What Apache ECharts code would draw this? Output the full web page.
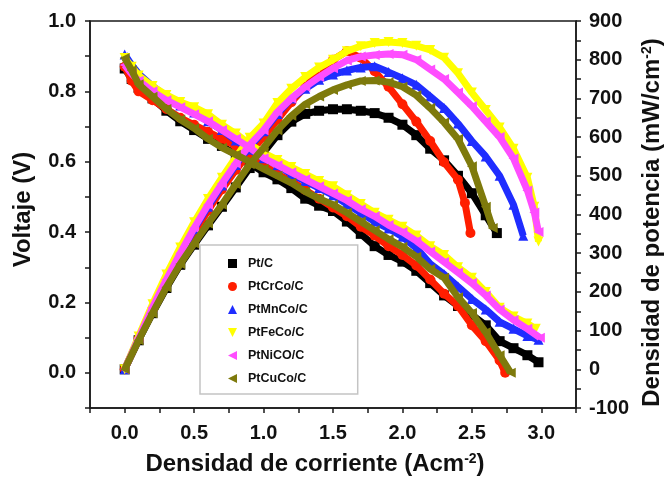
<!DOCTYPE html>
<html>
<head>
<meta charset="utf-8">
<script src="https://cdn.jsdelivr.net/npm/echarts@6/dist/echarts.min.js"></script>
<style>html,body{margin:0;padding:0;background:#fff;}#c{width:666px;height:478px;}</style>
</head>
<body>
<div id="c"></div>
<script>
// ---- data ----
const catalysts = ['Pt/C', 'PtCrCo/C', 'PtMnCo/C', 'PtFeCo/C', 'PtNiCO/C', 'PtCuCo/C'];

// Voltage (V) vs current density (A cm^-2)
const voltPtC = [[0,0.865],[0.05,0.835],[0.1,0.81],[0.2,0.78],[0.3,0.745],[0.4,0.715],[0.5,0.69],[0.6,0.665],[0.7,0.645],[0.8,0.62],[0.9,0.595],[1.0,0.57],[1.1,0.55],[1.2,0.525],[1.3,0.495],[1.4,0.475],[1.5,0.46],[1.6,0.43],[1.7,0.395],[1.8,0.36],[1.9,0.335],[2.0,0.316],[2.1,0.29],[2.2,0.255],[2.3,0.22],[2.4,0.19],[2.5,0.165],[2.6,0.135],[2.7,0.09],[2.8,0.07],[2.9,0.05],[2.98,0.03]];
const voltPtCrCo = [[0,0.87],[0.05,0.83],[0.1,0.80],[0.2,0.775],[0.3,0.75],[0.4,0.725],[0.5,0.705],[0.6,0.685],[0.7,0.665],[0.8,0.645],[0.9,0.615],[1.0,0.59],[1.1,0.565],[1.2,0.545],[1.3,0.52],[1.4,0.495],[1.5,0.47],[1.6,0.445],[1.7,0.415],[1.8,0.39],[1.9,0.36],[2.0,0.335],[2.1,0.305],[2.2,0.265],[2.3,0.225],[2.4,0.19],[2.5,0.135],[2.6,0.09],[2.7,0.035],[2.74,0.0]];
const voltPtMnCo = [[0,0.905],[0.05,0.875],[0.1,0.85],[0.2,0.815],[0.3,0.785],[0.4,0.76],[0.5,0.74],[0.6,0.715],[0.7,0.69],[0.8,0.66],[0.9,0.635],[1.0,0.61],[1.1,0.59],[1.2,0.565],[1.3,0.545],[1.4,0.525],[1.5,0.505],[1.6,0.48],[1.7,0.455],[1.8,0.43],[1.9,0.41],[2.0,0.387],[2.1,0.355],[2.2,0.31],[2.3,0.28],[2.4,0.245],[2.5,0.21],[2.6,0.18],[2.7,0.145],[2.8,0.125],[2.9,0.105],[2.98,0.094]];
const voltPtFeCo = [[0,0.895],[0.05,0.87],[0.1,0.845],[0.2,0.815],[0.3,0.79],[0.4,0.77],[0.5,0.755],[0.6,0.735],[0.7,0.705],[0.8,0.68],[0.9,0.65],[1.0,0.625],[1.1,0.605],[1.2,0.585],[1.3,0.565],[1.4,0.545],[1.5,0.53],[1.6,0.505],[1.7,0.48],[1.8,0.455],[1.9,0.435],[2.0,0.415],[2.1,0.39],[2.2,0.36],[2.3,0.335],[2.4,0.30],[2.5,0.27],[2.6,0.23],[2.7,0.185],[2.8,0.16],[2.9,0.14],[2.96,0.125]];
const voltPtNiCo = [[0,0.875],[0.05,0.85],[0.1,0.83],[0.2,0.80],[0.3,0.775],[0.4,0.755],[0.5,0.735],[0.6,0.715],[0.7,0.69],[0.8,0.665],[0.9,0.64],[1.0,0.61],[1.1,0.59],[1.2,0.57],[1.3,0.55],[1.4,0.53],[1.5,0.51],[1.6,0.49],[1.7,0.465],[1.8,0.445],[1.9,0.42],[2.0,0.40],[2.1,0.375],[2.2,0.345],[2.3,0.315],[2.4,0.285],[2.5,0.255],[2.6,0.22],[2.7,0.18],[2.8,0.15],[2.9,0.125],[2.99,0.10]];
const voltPtCuCo = [[0,0.895],[0.05,0.86],[0.1,0.82],[0.2,0.785],[0.3,0.75],[0.4,0.72],[0.5,0.695],[0.6,0.665],[0.7,0.64],[0.8,0.62],[0.9,0.60],[1.0,0.58],[1.1,0.56],[1.2,0.54],[1.3,0.515],[1.4,0.495],[1.5,0.478],[1.6,0.455],[1.7,0.43],[1.8,0.405],[1.9,0.38],[2.0,0.358],[2.1,0.33],[2.2,0.295],[2.3,0.27],[2.4,0.215],[2.5,0.17],[2.6,0.115],[2.7,0.05],[2.78,0.0]];

// Power density (mW cm^-2) vs current density
const powPtC = [[0,0],[0.1,75],[0.2,145],[0.3,210],[0.4,270],[0.5,322],[0.6,372],[0.7,420],[0.8,470],[0.9,520],[1.0,560],[1.1,605],[1.2,640],[1.3,660],[1.4,668],[1.5,672],[1.6,672],[1.7,668],[1.8,662],[1.9,650],[2.0,632],[2.1,605],[2.2,570],[2.3,540],[2.4,500],[2.5,455],[2.6,398],[2.68,352]];
const powPtCrCo = [[0,0],[0.1,78],[0.2,155],[0.3,225],[0.4,290],[0.5,352],[0.6,410],[0.7,465],[0.8,515],[0.9,560],[1.0,600],[1.1,645],[1.2,690],[1.3,730],[1.4,770],[1.5,800],[1.6,822],[1.7,805],[1.8,770],[1.9,730],[2.0,685],[2.1,640],[2.2,590],[2.3,535],[2.4,490],[2.45,430],[2.49,352]];
const powPtMnCo = [[0,0],[0.1,80],[0.2,158],[0.3,230],[0.4,298],[0.5,362],[0.6,420],[0.7,475],[0.8,528],[0.9,575],[1.0,615],[1.1,660],[1.2,700],[1.3,725],[1.4,748],[1.5,762],[1.6,772],[1.7,780],[1.8,783],[1.9,768],[2.0,752],[2.1,735],[2.2,705],[2.3,675],[2.4,635],[2.5,590],[2.6,550],[2.7,500],[2.8,425],[2.87,345]];
const powPtFeCo = [[0,0],[0.1,85],[0.2,168],[0.3,245],[0.4,315],[0.5,380],[0.6,440],[0.7,495],[0.8,548],[0.9,598],[1.0,635],[1.1,688],[1.2,725],[1.3,755],[1.4,780],[1.5,800],[1.6,822],[1.7,835],[1.8,843],[1.9,846],[2.0,843],[2.1,836],[2.2,825],[2.3,805],[2.4,765],[2.5,715],[2.6,670],[2.7,625],[2.8,570],[2.9,495],[2.95,420],[2.98,330]];
const powPtNiCo = [[0,0],[0.1,80],[0.2,160],[0.3,232],[0.4,300],[0.5,365],[0.6,425],[0.7,480],[0.8,532],[0.9,580],[1.0,618],[1.1,665],[1.2,700],[1.3,730],[1.4,755],[1.5,778],[1.6,798],[1.7,808],[1.8,812],[1.9,815],[2.0,813],[2.1,800],[2.2,775],[2.3,750],[2.4,715],[2.5,680],[2.6,640],[2.7,600],[2.8,545],[2.9,462],[2.95,405],[2.98,355]];
const powPtCuCo = [[0,0],[0.1,75],[0.2,145],[0.3,212],[0.4,272],[0.5,325],[0.6,377],[0.7,425],[0.8,478],[0.9,530],[1.0,572],[1.1,618],[1.2,655],[1.3,685],[1.4,705],[1.5,722],[1.6,735],[1.7,745],[1.8,746],[1.9,742],[2.0,730],[2.1,708],[2.2,675],[2.3,638],[2.4,595],[2.5,525],[2.6,420],[2.65,365]];

const voltageSets = [voltPtC, voltPtCrCo, voltPtMnCo, voltPtFeCo, voltPtNiCo, voltPtCuCo];
const powerSets = [powPtC, powPtCrCo, powPtMnCo, powPtFeCo, powPtNiCo, powPtCuCo];

// ---- styling ----
const colors = ['#000000', '#ff1e00', '#1f2dff', '#ffff00', '#ff4dff', '#7e7a0c'];
const symbols = ['rect', 'circle', 'triangle', 'path://M0,0L10,0L5,10Z', 'path://M10,0L10,10L0,5Z', 'path://M10,0L10,10L0,5Z'];
const FONT = '"Liberation Sans", Arial, sans-serif';

const series = [];
catalysts.forEach((name, i) => {
  [[voltageSets[i], 0], [powerSets[i], 1]].forEach(([data, yi]) => {
    series.push({
      name: name,
      type: 'line',
      yAxisIndex: yi,
      data: data,
      symbol: symbols[i],
      symbolSize: 10,
      showSymbol: true,
      color: colors[i],
      itemStyle: { color: colors[i] },
      lineStyle: { color: colors[i], width: 7 },
      z: 2 + i,
      animation: false
    });
  });
});

const supStyle = { fontFamily: FONT, fontWeight: 'bold', fontSize: 14, verticalAlign: 'top', padding: [0, 0, 10, 0], color: '#111' };

const chart = echarts.init(document.getElementById('c'), null, { renderer: 'canvas' });
chart.setOption({
  animation: false,
  textStyle: { fontFamily: FONT },
  grid: { left: 90, right: 90, top: 21, bottom: 70, outerBoundsMode: 'none', containLabel: false, show: true, borderColor: '#1a1a1a', borderWidth: 1.5, backgroundColor: 'transparent' },
  legend: {
    orient: 'vertical',
    left: 200, top: 245,
    padding: [12, 50, 9, 28],
    itemWidth: 9, itemHeight: 9, itemGap: 10,
    backgroundColor: '#fff',
    borderColor: '#c4c4c4', borderWidth: 1.5,
    textStyle: { fontFamily: FONT, fontWeight: 'bold', fontSize: 12.5, color: '#111', padding: [0, 0, 0, 6] },
    data: catalysts.map((n, i) => ({ name: n, icon: symbols[i] }))
  },
  xAxis: {
    type: 'value', min: -0.25, max: 3.25, interval: 0.25,
    name: 'Densidad de corriente (Acm{sup|-2})',
    nameLocation: 'middle', nameGap: 44,
    nameTextStyle: { fontFamily: FONT, fontWeight: 'bold', fontSize: 24, color: '#111', padding: [0, 36, 0, 0], rich: { sup: supStyle } },
    axisLine: { onZero: false, lineStyle: { color: '#1a1a1a', width: 1.5 } },
    axisTick: { show: true, inside: false, length: 5, lineStyle: { color: '#1a1a1a', width: 1.5 } },
    splitLine: { show: false },
    axisLabel: {
      margin: 15, fontFamily: FONT, fontWeight: 'bold', fontSize: 20, color: '#111',
      formatter: v => { const k = Math.round(v * 4); return (k >= 0 && k <= 12 && k % 2 === 0) ? (k / 4).toFixed(1) : ''; }
    }
  },
  yAxis: [{
    type: 'value', min: -0.1, max: 1.0, interval: 0.1, position: 'left',
    name: 'Voltaje (V)', nameLocation: 'middle', nameGap: 55, nameRotate: 90,
    nameTextStyle: { fontFamily: FONT, fontWeight: 'bold', fontSize: 24, color: '#111', padding: [0, 0, 0, 10] },
    axisLine: { show: true, onZero: false, lineStyle: { color: '#1a1a1a', width: 1.5 } },
    axisTick: { show: true, inside: false, length: 5, lineStyle: { color: '#1a1a1a', width: 1.5 } },
    splitLine: { show: false },
    axisLabel: {
      margin: 14, fontFamily: FONT, fontWeight: 'bold', fontSize: 20, color: '#111',
      formatter: v => { const k = Math.round(v * 10); return (k >= 0 && k % 2 === 0) ? (k / 10).toFixed(1) : ''; }
    }
  }, {
    type: 'value', min: -100, max: 900, interval: 100, position: 'right',
    name: 'Densidad de potencia (mW/cm{sup|-2})', nameLocation: 'middle', nameGap: 64, nameRotate: 90,
    nameTextStyle: { fontFamily: FONT, fontWeight: 'bold', fontSize: 24, color: '#111', padding: [0, 16, 0, 0], rich: { sup: supStyle } },
    axisLine: { show: true, onZero: false, lineStyle: { color: '#1a1a1a', width: 1.5 } },
    axisTick: { show: true, inside: false, length: 5, lineStyle: { color: '#1a1a1a', width: 1.5 } },
    minorTick: { show: true, splitNumber: 2, length: 5, lineStyle: { color: '#1a1a1a', width: 1.5 } },
    splitLine: { show: false },
    axisLabel: { margin: 13, fontFamily: FONT, fontWeight: 'bold', fontSize: 20, color: '#111' }
  }],
  series: series
});
</script>
</body>
</html>
